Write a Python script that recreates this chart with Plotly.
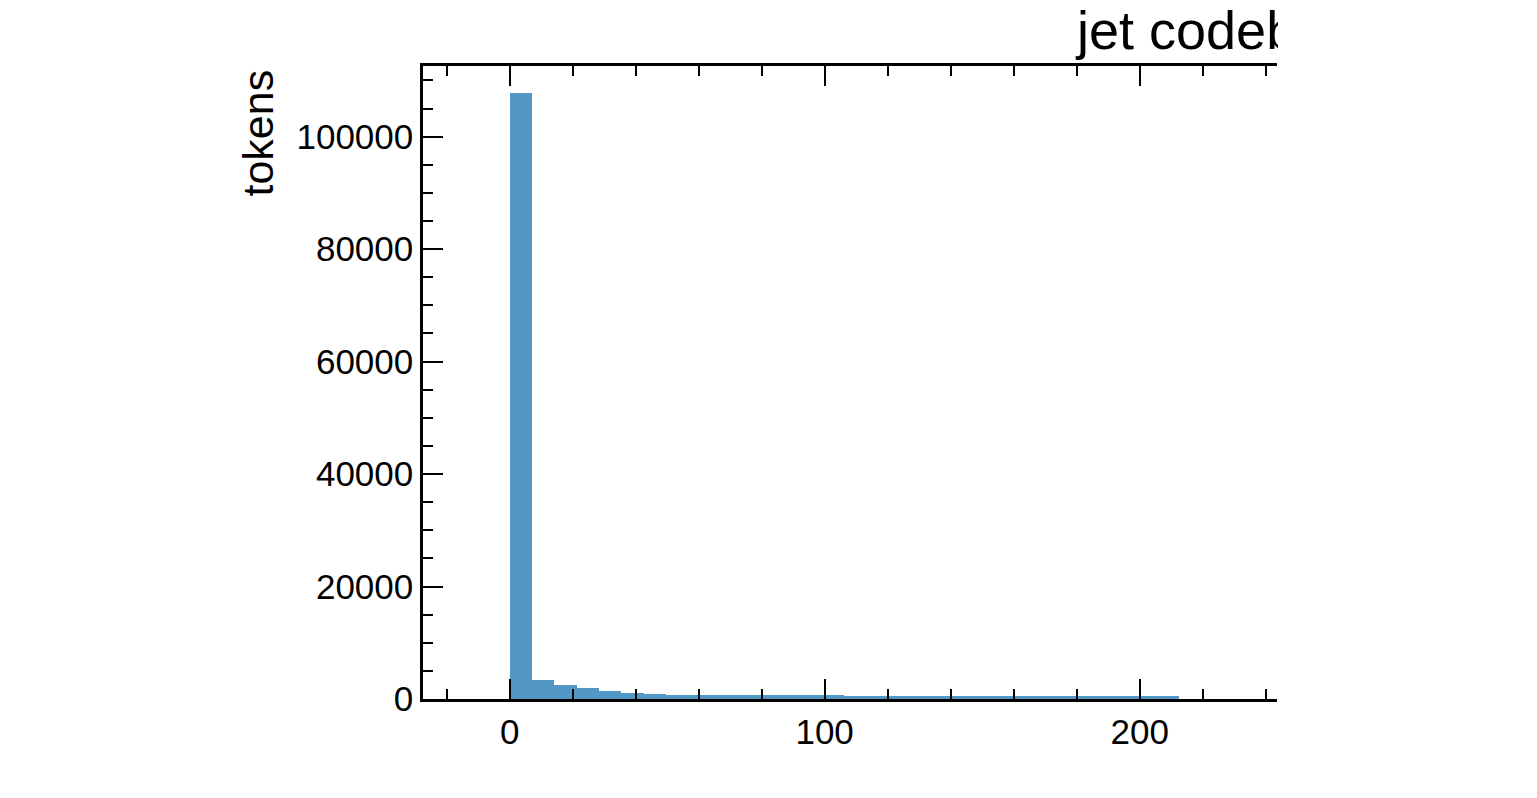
import plotly.graph_objects as go

# Histogram of codebook token indices: 30 equal-width bins starting at 0
bin_start = 0.0
bin_width = 255.0 / 36
counts = [107800, 3450, 2450, 1900, 1450, 1080, 850, 800, 780, 710,
          700, 690, 680, 670, 660, 600, 590, 580, 575, 570,
          565, 560, 555, 550, 550, 545, 545, 540, 540, 535]

x_ticks = [0, 100, 200]
y_ticks = [0, 20000, 40000, 60000, 80000, 100000]

W, H = 1537, 798
L, R, T, B = 423, 1277, 66, 699  # plot area in pixels

bin_left = [bin_start + i * bin_width for i in range(len(counts))]

fig = go.Figure()
fig.add_trace(go.Bar(
    x=bin_left, y=counts, width=bin_width, offset=0,
    marker=dict(color="rgb(82,151,198)", line=dict(width=0)),
    showlegend=False,
))

font = "Liberation Sans, Arial, Helvetica, sans-serif"
fig.update_layout(
    width=W, height=H,
    margin=dict(l=L, r=W - R, t=T, b=H - B, pad=0),
    paper_bgcolor="white", plot_bgcolor="white",
    bargap=0,
    font=dict(family=font, size=35, color="black"),
    xaxis=dict(
        range=[-27.5, 243.6],
        tickmode="array", tickvals=x_ticks, ticktext=[str(v) for v in x_ticks],
        ticks="inside", ticklen=20, tickwidth=2, tickcolor="black",
        minor=dict(dtick=20, tick0=0, ticks="inside", ticklen=10,
                   tickwidth=2, tickcolor="black", showgrid=False),
        showline=True, linewidth=2.5, linecolor="black", mirror="ticks",
        showgrid=False, zeroline=False,
        tickfont=dict(size=35),
    ),
    yaxis=dict(
        range=[0, 112570],
        tickmode="array", tickvals=y_ticks, ticktext=[str(v) for v in y_ticks],
        ticks="inside", ticklen=20, tickwidth=2, tickcolor="black",
        minor=dict(dtick=5000, tick0=0, ticks="inside", ticklen=10,
                   tickwidth=2, tickcolor="black", showgrid=False),
        showline=True, linewidth=2.5, linecolor="black", mirror=False,
        showgrid=False, zeroline=False,
        tickfont=dict(size=35),
    ),
)

def px_x(p):
    return (p - L) / (R - L)

def px_y(p):
    return (B - p) / (B - T)

# Axis label, aligned with the top of the y axis
fig.add_annotation(
    text="tokens", textangle=-90, showarrow=False,
    xref="paper", yref="paper", x=px_x(257), y=px_y(68),
    xanchor="center", yanchor="top",
    font=dict(size=43, family=font, color="black"),
)

# Title, running off the right edge of the drawing
fig.add_annotation(
    text="jet codebook", showarrow=False,
    xref="paper", yref="paper", x=px_x(1073), y=px_y(-2),
    xanchor="left", yanchor="top",
    font=dict(size=54, family=font, color="black"),
)
# Blank the area right of the plot
fig.add_annotation(
    text=" ", showarrow=False,
    xref="paper", yref="paper", x=px_x(R + 1), y=1.2,
    xanchor="left", yanchor="top",
    width=W - R + 10, height=H, bgcolor="white", borderpad=0, borderwidth=0,
)

fig.write_html("out.html")
